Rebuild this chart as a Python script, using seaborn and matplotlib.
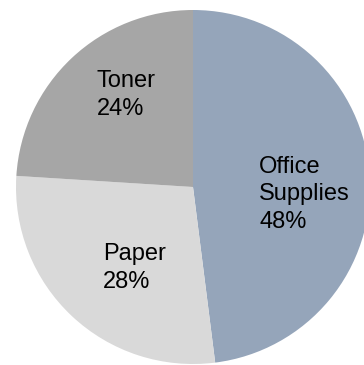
import matplotlib
matplotlib.use("Agg")
import matplotlib.pyplot as plt
import seaborn as sns
import numpy as np

categories = ["Office\nSupplies", "Paper", "Toner"]
values = [48, 28, 24]
colors = ["#95A5BA", "#D9D9D9", "#A6A6A6"]
label_dist = [0.631, 0.564, 0.643]
label_turn = [-7.4, 7.4, -7.2]

sns.set_theme(style="white")
plt.rcParams["font.family"] = ["Liberation Sans", "DejaVu Sans"]

fig = plt.figure(figsize=(3.64, 3.65), dpi=100)
ax = fig.add_axes([16 / 364, 1 / 365, 354 / 364, 354 / 365])
wedges, _ = ax.pie(values, colors=colors, startangle=90, counterclock=False,
                   radius=1.0, wedgeprops=dict(linewidth=0))
total = sum(values)
for w, cat, v, d, t in zip(wedges, categories, values, label_dist, label_turn):
    ang = np.deg2rad((w.theta1 + w.theta2) / 2 + t)
    x, y = d * np.cos(ang), d * np.sin(ang)
    ax.text(x, y, f"{cat}\n{round(100 * v / total)}%", ha="center", va="center",
            multialignment="left", fontsize=17, color="black", linespacing=1.34)
ax.set_xlim(-1, 1)
ax.set_ylim(-1, 1)
ax.set_aspect("equal")
ax.axis("off")
fig.savefig("out.png", dpi=100)
